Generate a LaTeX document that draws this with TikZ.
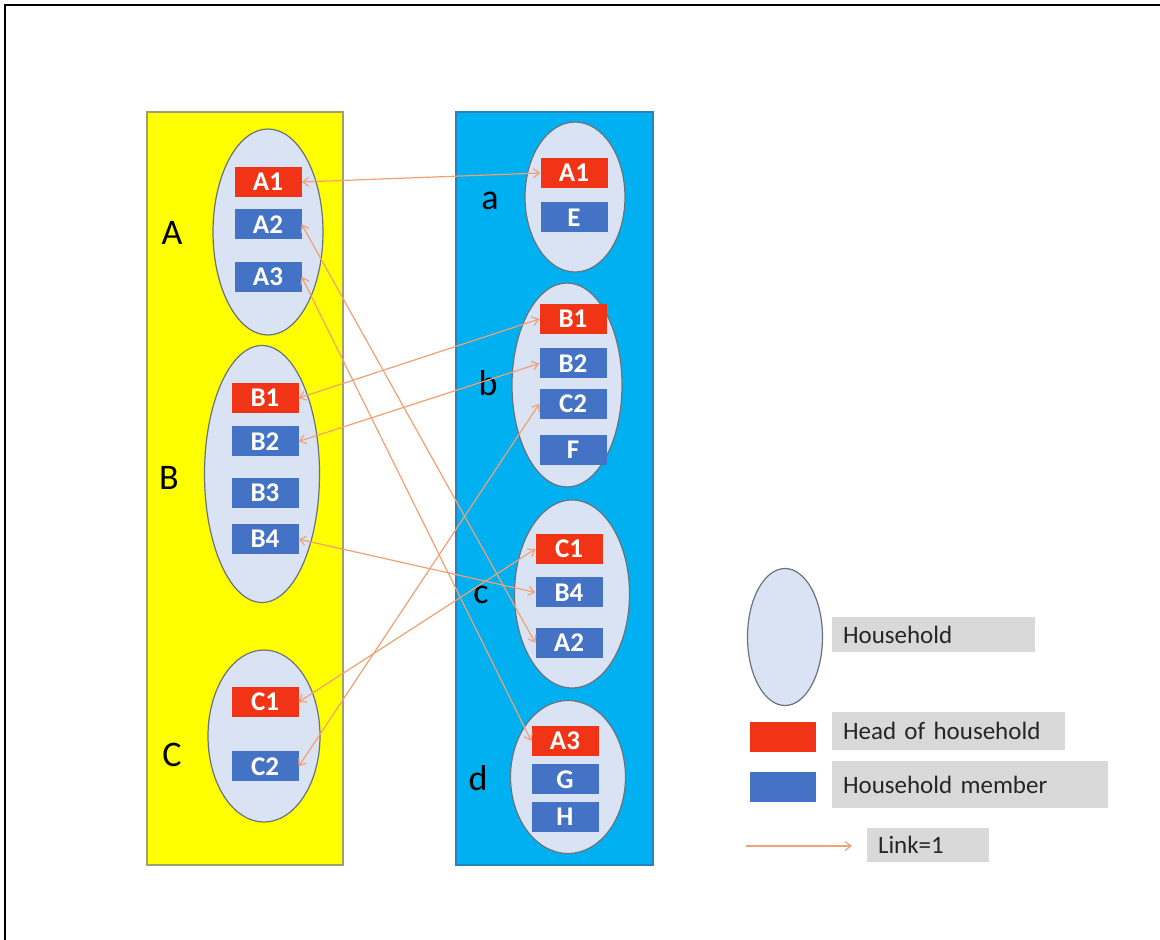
\documentclass[tikz,border=0pt]{standalone}
\usepackage{fontspec}
\setmainfont{Carlito}
\usepackage{xcolor}
\usepackage{tikz}
\usetikzlibrary{shapes.geometric, arrows.meta, positioning}

\definecolor{panelyellow}{RGB}{255,255,0}
\definecolor{panelblue}{RGB}{0,176,240}
\definecolor{hhfill}{RGB}{218,227,243}
\definecolor{hhline}{RGB}{105,115,125}
\definecolor{headred}{RGB}{242,52,22}
\definecolor{memblue}{RGB}{68,114,196}
\definecolor{linkorange}{RGB}{240,160,115}
\definecolor{legendgray}{RGB}{217,217,217}

\begin{document}
\begin{tikzpicture}[
    x=1pt, y=-1pt,
    panel/.style={rectangle, line width=1.5pt, minimum width=196pt, minimum height=753pt, inner sep=0pt},
    hh/.style={ellipse, draw=hhline, fill=hhfill, line width=1.2pt, inner sep=0pt},
    member/.style={rectangle, fill=memblue, text=white, minimum width=67pt, minimum height=30pt, inner sep=0pt, font=\fontsize{27}{27}\selectfont\bfseries},
    head/.style={member, fill=headred},
    grp/.style={inner sep=0pt, font=\fontsize{36}{36}\selectfont},
    lbl/.style={rectangle, fill=legendgray, text=black!85, align=left, inner xsep=11pt, inner ysep=0pt, font=\fontsize{25}{25}\selectfont},
    link/.style={{Straight Barb[length=6pt,width=9pt]}-{Straight Barb[length=6pt,width=9pt]}, draw=linkorange, line width=1.2pt}
]
\useasboundingbox (0,0) rectangle (1160,940);
\draw[line width=2pt] (5,940) -- (5,5) -- (1160,5);

% panels
\node[panel, fill=panelyellow, draw={rgb,255:red,160;green,160;blue,110}] (left) at (245,488.5) {};
\node[panel, fill=panelblue, draw={rgb,255:red,40;green,130;blue,190}, minimum width=197pt] (right) at (554.5,488.5) {};

% households, left side
\node[hh, minimum width=110pt, minimum height=206pt] (hA) at (268,232) {};
\node[hh, minimum width=115pt, minimum height=257pt] (hB) at (262,474) {};
\node[hh, minimum width=112pt, minimum height=172pt] (hC) at (264,736) {};
\node[grp] (gA) at (172,233) {A};
\node[grp] (gB) at (169,478) {B};
\node[grp] (gC) at (172,755) {C};

% households, right side
\node[hh, minimum width=100pt, minimum height=150pt] (ha) at (575,197) {};
\node[hh, minimum width=110pt, minimum height=204pt] (hb) at (567,385) {};
\node[hh, minimum width=115pt, minimum height=188pt] (hc) at (572,594) {};
\node[hh, minimum width=115pt, minimum height=153pt] (hd) at (568,777) {};
\node[grp] (ga) at (490,201) {a};
\node[grp] (gb) at (488,383) {b};
\node[grp] (gc) at (481,595) {c};
\node[grp] (gd) at (478,778) {d};

% members, left
\node[head] (lA1) at (268,182) {A1};
\node[member, below=12pt of lA1] (lA2) {A2};
\node[member, below=22pt of lA2] (lA3) {A3};
\node[head] (lB1) at (265,398) {B1};
\node[member, below=13pt of lB1] (lB2) {B2};
\node[member, below=21pt of lB2] (lB3) {B3};
\node[member, below=16pt of lB3] (lB4) {B4};
\node[head] (lC1) at (265,702) {C1};
\node[member, below=34pt of lC1] (lC2) {C2};

% members, right
\node[head] (rA1) at (574,173) {A1};
\node[member, below=14pt of rA1] (rE) {E};
\node[head] (rB1) at (573,319) {B1};
\node[member, below=14pt of rB1] (rB2) {B2};
\node[member, below=10pt of rB2] (rC2) {C2};
\node[member, below=16pt of rC2] (rF) {F};
\node[head] (rC1) at (569,549) {C1};
\node[member, below=13pt of rC1] (rB4) {B4};
\node[member, below=20pt of rB4] (rA2) {A2};
\node[head] (rA3) at (565,741) {A3};
\node[member, below=8pt of rA3] (rG) {G};
\node[member, below=7pt of rG] (rH) {H};

% links
\draw[link] (lA1.east) -- (rA1.west);
\draw[link] (lA2.east) -- (rA2.west);
\draw[link] (lA3.east) -- (rA3.west);
\draw[link] (lB1.east) -- (rB1.west);
\draw[link] (lB2.east) -- (rB2.west);
\draw[link] (lB4.east) -- (rB4.west);
\draw[link] (lC1.east) -- (rC1.west);
\draw[link] (lC2.east) -- (rC2.west);

% legend
\node[hh, minimum width=75pt, minimum height=137pt] (lgHH) at (785,637) {};
\node[lbl, text width=181pt, minimum height=35pt] (tHH) at (933.5,634.5) {Household};
\node[head, minimum width=66pt] (lgHead) at (783,737) {};
\node[lbl, text width=211pt, minimum height=38pt] (tHead) at (948.5,731) {Head of household};
\node[member, minimum width=66pt] (lgMem) at (783,787) {};
\node[lbl, text width=254pt, minimum height=47pt] (tMem) at (970,784.5) {Household member};
\coordinate (lkS) at (746,846);
\coordinate (lkE) at (852,846);
\draw[link, {Straight Barb[length=6pt,width=9pt]}-{Straight Barb[length=6pt,width=9pt]}, -{Straight Barb[length=6pt,width=9pt]}] (lkS) -- (lkE);
\node[lbl, text width=100pt, minimum height=34pt] (tLink) at (928,845) {Link=1};

\end{tikzpicture}
\end{document}
